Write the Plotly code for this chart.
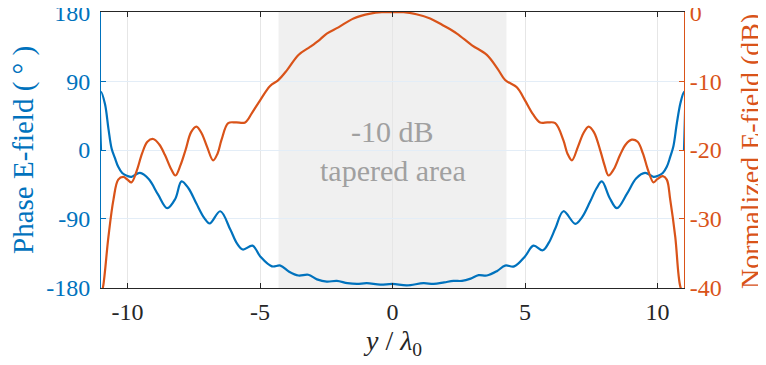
import plotly.graph_objects as go

# ---- data ----
x_phase = [-11.0, -11.0, -10.85, -10.72, -10.6, -10.48, -10.35, -10.2, -10.0, -9.85, -9.53, -9.2, -8.85,
           -8.5, -8.2, -7.96, -7.7, -7.4, -7.1, -6.9, -6.5, -6.12, -5.87, -5.65, -5.28, -4.99,
           -4.55, -4.23, -3.9, -3.55, -3.18, -2.85, -2.48, -2.1, -1.7, -1.34, -0.97, -0.46, 0.0,
           0.54, 1.17, 1.55, 1.95, 2.3, 2.62, 2.95, 3.25, 3.56, 3.95, 4.25, 4.59, 5.0, 5.32, 5.67,
           5.9, 6.15, 6.45, 6.9, 7.15, 7.45, 7.7, 7.9, 8.2, 8.47, 8.85, 9.2, 9.53, 9.85, 10.0,
           10.2, 10.35, 10.48, 10.6, 10.73, 10.87, 11.0, 11.0]
phase = [0, 76, 60, 28, 2, -10, -22, -30, -34, -35, -30, -38, -58,
         -76, -64, -41, -50, -70, -89, -96, -80, -104, -122, -130, -125, -139,
         -152, -151, -159, -164, -163, -169, -172, -171, -174, -175, -174, -176, -175,
         -177, -174, -175, -173, -171, -171, -168, -163.5, -164, -158, -151, -152, -139, -125, -131,
         -121, -102, -80, -96.5, -88, -68, -50, -41, -63, -76, -57, -37, -30, -35, -34,
         -30, -22, -9, 5, 35, 62, 76, 0]

x_db = [-11.0, -10.92, -10.72, -10.53, -10.35, -10.16, -10.0, -9.85, -9.65, -9.45, -9.25, -9.03,
        -8.8, -8.59, -8.35, -8.19, -8.0, -7.81, -7.6, -7.4, -7.2, -7.0, -6.77, -6.6, -6.45, -6.2,
        -5.9, -5.56, -5.3, -4.99, -4.62, -4.31, -3.98, -3.55, -3.1, -2.75, -2.48, -2.04, -1.47,
        -0.84, -0.4, 0.0, 0.42, 0.9, 1.42, 1.95, 2.43, 3.0, 3.56, 3.98, 4.25, 4.69, 5.0, 5.3,
        5.57, 5.85, 6.14, 6.45, 6.6, 6.77, 7.0, 7.2, 7.4, 7.6, 7.85, 8.0, 8.15, 8.35, 8.59, 8.8,
        9.03, 9.25, 9.45, 9.65, 9.85, 10.0, 10.2, 10.35, 10.48, 10.67, 10.86, 11.0]
field_db = [-41, -39.8, -32.6, -27.2, -24.3, -23.9, -24.3, -24.7, -23, -20.5, -18.8, -18.4,
            -19.2, -20.7, -22.8, -23.7, -22.2, -20, -17.4, -16.6, -17.6, -19.5, -21.5, -20.5, -18.5, -16.1,
            -16.0, -16.0, -14.6, -12.75, -10.7, -9.85, -8.4, -6.2, -5.0, -4.0, -3.1, -2.2, -0.9,
            -0.2, 0, 0, 0, -0.3, -0.9, -2.0, -3.1, -4.8, -6.2, -8.3, -9.85, -10.9, -12.8, -14.8,
            -16.0, -16.0, -16.1, -18.6, -20.5, -21.5, -19.5, -17.6, -16.6, -17.4, -20.2, -22.2, -23.7, -22.8, -20.7, -19.2,
            -18.5, -18.8, -20.5, -23, -24.7, -24.2, -23.8, -24.3, -27.2, -32.6, -39.8, -41]

x_ticks = [-10, -5, 0, 5, 10]
x_ticklabels = ["-10", "-5", "0", "5", "10"]
phase_ticks = [-180, -90, 0, 90, 180]
phase_ticklabels = ["-180", "-90", "0", "90", "180"]
db_ticks = [-40, -30, -20, -10, 0]
db_ticklabels = ["-40", "-30", "-20", "-10", "0"]
taper_limits = [-4.3, 4.3]

BLUE = "#0072BD"
ORANGE = "#D95319"
DARK = "#262626"
FONT = "Liberation Serif"

fig = go.Figure()
fig.add_trace(go.Scatter(x=x_phase, y=phase, mode="lines",
                         line=dict(color=BLUE, width=2.2, shape="spline", smoothing=1.0),
                         yaxis="y", showlegend=False))
fig.add_trace(go.Scatter(x=x_db, y=field_db, mode="lines",
                         line=dict(color=ORANGE, width=2.2, shape="spline", smoothing=1.0),
                         yaxis="y2", showlegend=False))

fig.add_shape(type="rect", xref="x", yref="paper", x0=taper_limits[0], x1=taper_limits[1],
              y0=0, y1=1, fillcolor="#f0f0f0", line=dict(width=0), layer="below")

fig.add_annotation(x=0, y=24, xref="x", yref="y", text="-10 dB", showarrow=False,
                   font=dict(family=FONT, size=30, color="#a0a0a0"))
fig.add_annotation(x=0, y=-27, xref="x", yref="y", text="tapered area", showarrow=False,
                   font=dict(family=FONT, size=30, color="#a0a0a0"))

fig.add_annotation(x=-0.1338, y=0.5, xref="paper", yref="paper", text="Phase E-field ( ° )",
                   xanchor="center", yanchor="middle",
                   textangle=-90, showarrow=False, font=dict(family=FONT, size=29, color=BLUE))
fig.add_annotation(x=1.115, y=0.493, xref="paper", yref="paper", text="Normalized E-field (dB)",
                   xanchor="center", yanchor="middle",
                   textangle=-90, showarrow=False, font=dict(family=FONT, size=28, color=ORANGE))
fig.add_annotation(x=0.5, y=-0.199, xref="paper", yref="paper",
                   text="<i>y</i> / <i>λ</i><sub>0</sub>", xanchor="center", yanchor="middle",
                   showarrow=False, font=dict(family=FONT, size=28, color=DARK))

# page body has an 8px margin, so the figure is 8px smaller and margins are shifted
fig.update_layout(
    width=758, height=357,
    margin=dict(l=93, r=82, t=4, b=77, autoexpand=False),
    paper_bgcolor="white", plot_bgcolor="white",
    font=dict(family=FONT, size=24),
    xaxis=dict(range=[-11, 11], tickvals=x_ticks, ticktext=x_ticklabels, automargin=False,
               ticks="inside", ticklen=5, tickcolor=DARK, mirror="ticks",
               showline=True, linecolor=DARK, linewidth=1, ticklabelstandoff=2,
               showgrid=True, gridcolor="#e6e6e6", gridwidth=1, zeroline=False,
               tickfont=dict(family=FONT, size=24, color=DARK)),
    yaxis=dict(range=[-180.3, 180.3], tickvals=phase_ticks, ticktext=phase_ticklabels, automargin=False,
               ticks="inside", ticklen=5, tickcolor=BLUE, ticklabelstandoff=5,
               ticklabeloverflow="allow",
               showline=True, linecolor=BLUE, linewidth=1,
               showgrid=True, gridcolor="#e3edf7", gridwidth=1, zeroline=False,
               tickfont=dict(family=FONT, size=24, color=BLUE)),
    yaxis2=dict(range=[-40.03, 0.03], tickvals=db_ticks, ticktext=db_ticklabels, overlaying="y", side="right",
                automargin=False, ticklabeloverflow="allow",
                ticks="inside", ticklen=5, tickcolor=ORANGE,
                showline=True, linecolor=ORANGE, linewidth=1,
                showgrid=False, zeroline=False,
                tickfont=dict(family=FONT, size=24, color=ORANGE)),
)

fig.write_html("out.html")
